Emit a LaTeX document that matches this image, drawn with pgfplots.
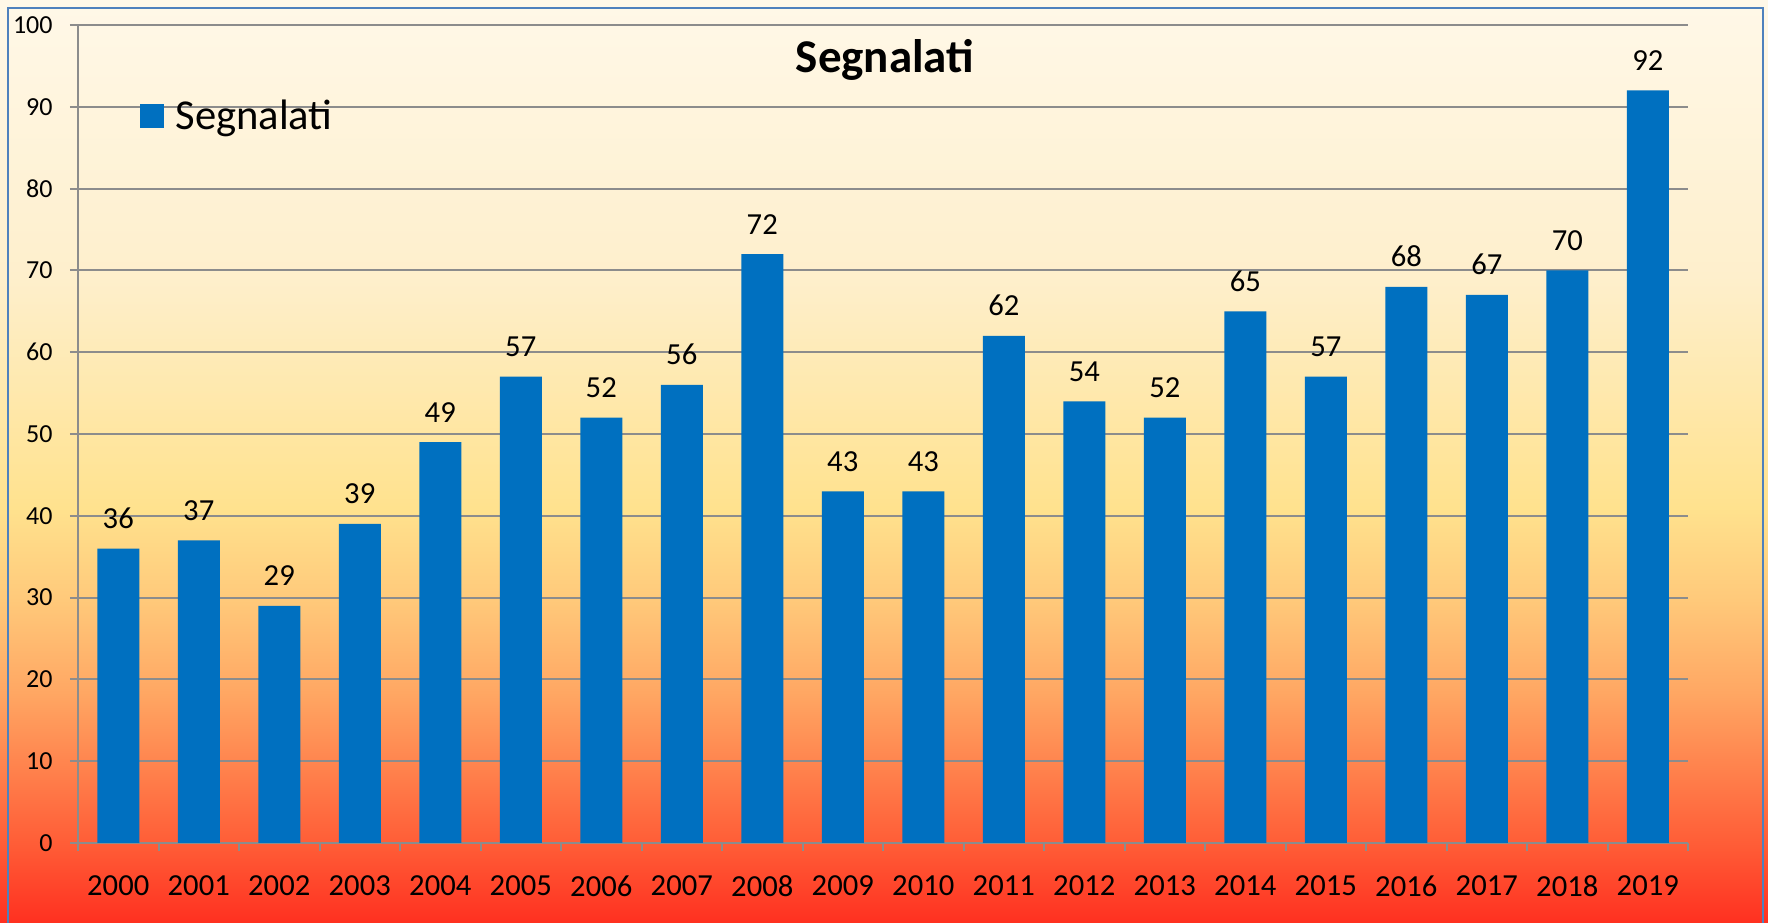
\documentclass[border=0pt]{standalone}
\usepackage{pgfplots}
\pgfplotsset{compat=1.18}
\usepackage{fontspec}
\setmainfont{Carlito}

\definecolor{barblue}{HTML}{0070C0}
\definecolor{gridgray}{HTML}{8C8C8C}
\definecolor{frameblue}{HTML}{4F81BD}
\definecolor{c0}{HTML}{FF3020}
\definecolor{c1}{HTML}{FF5A35}
\definecolor{c2}{HTML}{FF7A48}
\definecolor{c3}{HTML}{FFA763}
\definecolor{c4}{HTML}{FFC97A}
\definecolor{c5}{HTML}{FFE28E}
\definecolor{c6}{HTML}{FEEFCC}
\definecolor{c7}{HTML}{FFF8E8}
\pgfdeclareverticalshading{bg}{100bp}{color(0bp)=(c0); color(25bp)=(c0);
  color(29bp)=(c1); color(32.5bp)=(c2); color(37.5bp)=(c3); color(42.5bp)=(c4);
  color(47.5bp)=(c5); color(60bp)=(c6); color(75bp)=(c7); color(100bp)=(c7)}

\pgfplotstableread{
x year val
0  2000 36
1  2001 37
2  2002 29
3  2003 39
4  2004 49
5  2005 57
6  2006 52
7  2007 56
8  2008 72
9  2009 43
10 2010 43
11 2011 62
12 2012 54
13 2013 52
14 2014 65
15 2015 57
16 2016 68
17 2017 67
18 2018 70
19 2019 92
}\segnalati

\begin{document}
\begin{tikzpicture}
\useasboundingbox (0,0) rectangle (884bp,461.5bp);
\shade[shading=bg] (0,0) rectangle (884bp,461.5bp);
\draw[frameblue, line width=1bp] (4bp,-10bp) rectangle (881.5bp,457.5bp);
\node[anchor=base, font=\fontsize{23.5bp}{28bp}\selectfont\bfseries] at (442.5bp,425bp) {Segnalati};
\begin{axis}[
  at={(39bp,40bp)}, anchor=south west,
  scale only axis, width=805bp, height=409bp,
  xmin=-0.5, xmax=19.5, ymin=0, ymax=100,
  ytick={0,10,...,100},
  xtick={0,...,19},
  xticklabels={2000,2001,2002,2003,2004,2005,2006,2007,2008,2009,2010,2011,2012,2013,2014,2015,2016,2017,2018,2019},
  minor xtick={-0.5,0.5,...,19.5},
  axis x line=bottom, axis y line=left,
  axis line style={-, draw=gridgray, line width=1bp},
  tick align=outside,
  major tick length=4bp, minor tick length=4bp,
  major x tick style={draw=none},
  minor x tick style={draw=gridgray, line width=1bp},
  major y tick style={draw=gridgray, line width=1bp},
  ymajorgrids, grid style={draw=gridgray, line width=1bp},
  /pgf/number format/assume math mode=true,
  yticklabel style={font=\fontsize{13bp}{15bp}\selectfont, anchor=east, inner sep=0pt, xshift=-8.5bp},
  xticklabel style={font=\fontsize{15.3bp}{18bp}\selectfont, anchor=north, inner sep=0pt, yshift=-12bp},
  ybar, bar width=21bp,
  nodes near coords,
  every node near coord/.append style={font=\fontsize{15.3bp}{18bp}\selectfont, anchor=base, inner sep=0pt, yshift=10bp, text=black},
  legend style={at={(0.038,0.895)}, anchor=west, draw=none, fill=none, inner sep=0pt,
    column sep=4bp, font=\fontsize{21.3bp}{25bp}\selectfont},
  legend image code/.code={\path (0bp,15bp); \fill[barblue] (0bp,-6bp) rectangle (12bp,6bp);},
]
\addplot[fill=barblue, draw=none] table[x=x, y=val] {\segnalati};
\addlegendentry{Segnalati}
\end{axis}
\end{tikzpicture}
\end{document}
